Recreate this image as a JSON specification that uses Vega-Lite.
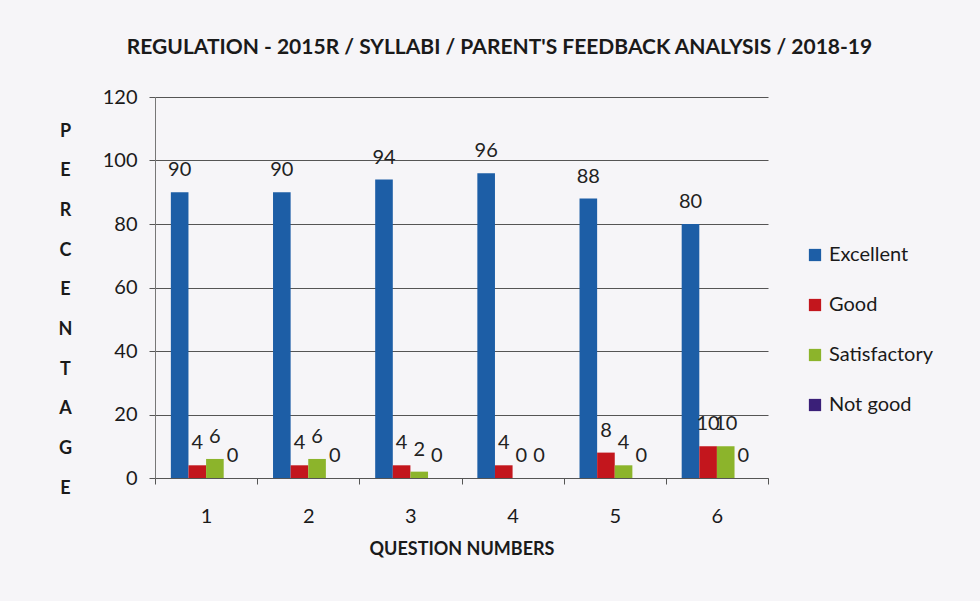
{
  "$schema": "https://vega.github.io/schema/vega-lite/v6.json",
  "width": 613,
  "height": 381,
  "autosize": "none",
  "padding": {"left": 155, "top": 97, "right": 212, "bottom": 123},
  "background": "#f6f5f8",
  "title": {
    "text": "REGULATION - 2015R / SYLLABI / PARENT'S FEEDBACK ANALYSIS / 2018-19",
    "font": "Lato",
    "fontSize": 21,
    "fontWeight": "bold",
    "color": "#1a1a1a",
    "offset": 29,
    "dx": 38
  },
  "data": {
    "values": [
      {"q": "1", "rating": "Excellent", "value": 90},
      {"q": "1", "rating": "Good", "value": 4},
      {"q": "1", "rating": "Satisfactory", "value": 6},
      {"q": "1", "rating": "Not good", "value": 0},
      {"q": "2", "rating": "Excellent", "value": 90},
      {"q": "2", "rating": "Good", "value": 4},
      {"q": "2", "rating": "Satisfactory", "value": 6},
      {"q": "2", "rating": "Not good", "value": 0},
      {"q": "3", "rating": "Excellent", "value": 94},
      {"q": "3", "rating": "Good", "value": 4},
      {"q": "3", "rating": "Satisfactory", "value": 2},
      {"q": "3", "rating": "Not good", "value": 0},
      {"q": "4", "rating": "Excellent", "value": 96},
      {"q": "4", "rating": "Good", "value": 4},
      {"q": "4", "rating": "Satisfactory", "value": 0},
      {"q": "4", "rating": "Not good", "value": 0},
      {"q": "5", "rating": "Excellent", "value": 88},
      {"q": "5", "rating": "Good", "value": 8},
      {"q": "5", "rating": "Satisfactory", "value": 4},
      {"q": "5", "rating": "Not good", "value": 0},
      {"q": "6", "rating": "Excellent", "value": 80},
      {"q": "6", "rating": "Good", "value": 10},
      {"q": "6", "rating": "Satisfactory", "value": 10},
      {"q": "6", "rating": "Not good", "value": 0}
    ]
  },
  "encoding": {
    "x": {
      "field": "q",
      "type": "nominal",
      "scale": {"paddingInner": 0, "paddingOuter": 0},
      "axis": {
        "title": "QUESTION NUMBERS",
        "titleFont": "Lato",
        "titleFontSize": 18,
        "titleFontWeight": "bold",
        "titleColor": "#1a1a1a",
        "titlePadding": 14,
        "labelAngle": 0,
        "labelFont": "Lato",
        "labelFontSize": 20,
        "labelColor": "#1a1a1a",
        "labelPadding": 22,
        "tickBand": "extent",
        "tickSize": 6,
        "tickColor": "#555",
        "domainColor": "#555"
      }
    },
    "xOffset": {
      "field": "rating",
      "sort": ["Excellent", "Good", "Satisfactory", "Not good"],
      "scale": {"paddingInner": 0, "paddingOuter": 0.9}
    },
    "y": {
      "field": "value",
      "type": "quantitative",
      "scale": {"domain": [0, 120]},
      "axis": {
        "values": [0, 20, 40, 60, 80, 100, 120],
        "title": ["P", "E", "R", "C", "E", "N", "T", "A", "G", "E"],
        "titleAngle": 0,
        "titleAlign": "center",
        "titleBaseline": "top",
        "titleX": -90,
        "titleY": 25,
        "titleLineHeight": 39.7,
        "titleFont": "Lato",
        "titleFontSize": 18,
        "titleFontWeight": "bold",
        "titleColor": "#1a1a1a",
        "labelFont": "Lato",
        "labelFontSize": 20,
        "labelColor": "#1a1a1a",
        "labelPadding": 12,
        "tickSize": 6,
        "tickColor": "#555",
        "grid": true,
        "gridColor": "#555",
        "gridWidth": 1,
        "domainColor": "#777"
      }
    }
  },
  "layer": [
    {
      "mark": {"type": "bar"},
      "encoding": {
        "color": {
          "field": "rating",
          "type": "nominal",
          "sort": ["Excellent", "Good", "Satisfactory", "Not good"],
          "scale": {
            "domain": ["Excellent", "Good", "Satisfactory", "Not good"],
            "range": ["#1d5ea6", "#c3161d", "#8cb42b", "#3a1f78"]
          },
          "legend": {
            "orient": "none",
            "legendX": 650,
            "legendY": 148,
            "title": null,
            "labelFont": "Lato",
            "labelFontSize": 20,
            "labelColor": "#1a1a1a",
            "symbolType": "square",
            "symbolSize": 150,
            "symbolStrokeWidth": 0,
            "rowPadding": 30,
            "labelOffset": 4
          }
        }
      }
    },
    {
      "mark": {"type": "text", "baseline": "bottom", "dy": -12, "font": "Lato", "fontSize": 20, "color": "#222"},
      "encoding": {"text": {"field": "value", "type": "quantitative"}}
    }
  ],
  "config": {"view": {"stroke": null}}
}
